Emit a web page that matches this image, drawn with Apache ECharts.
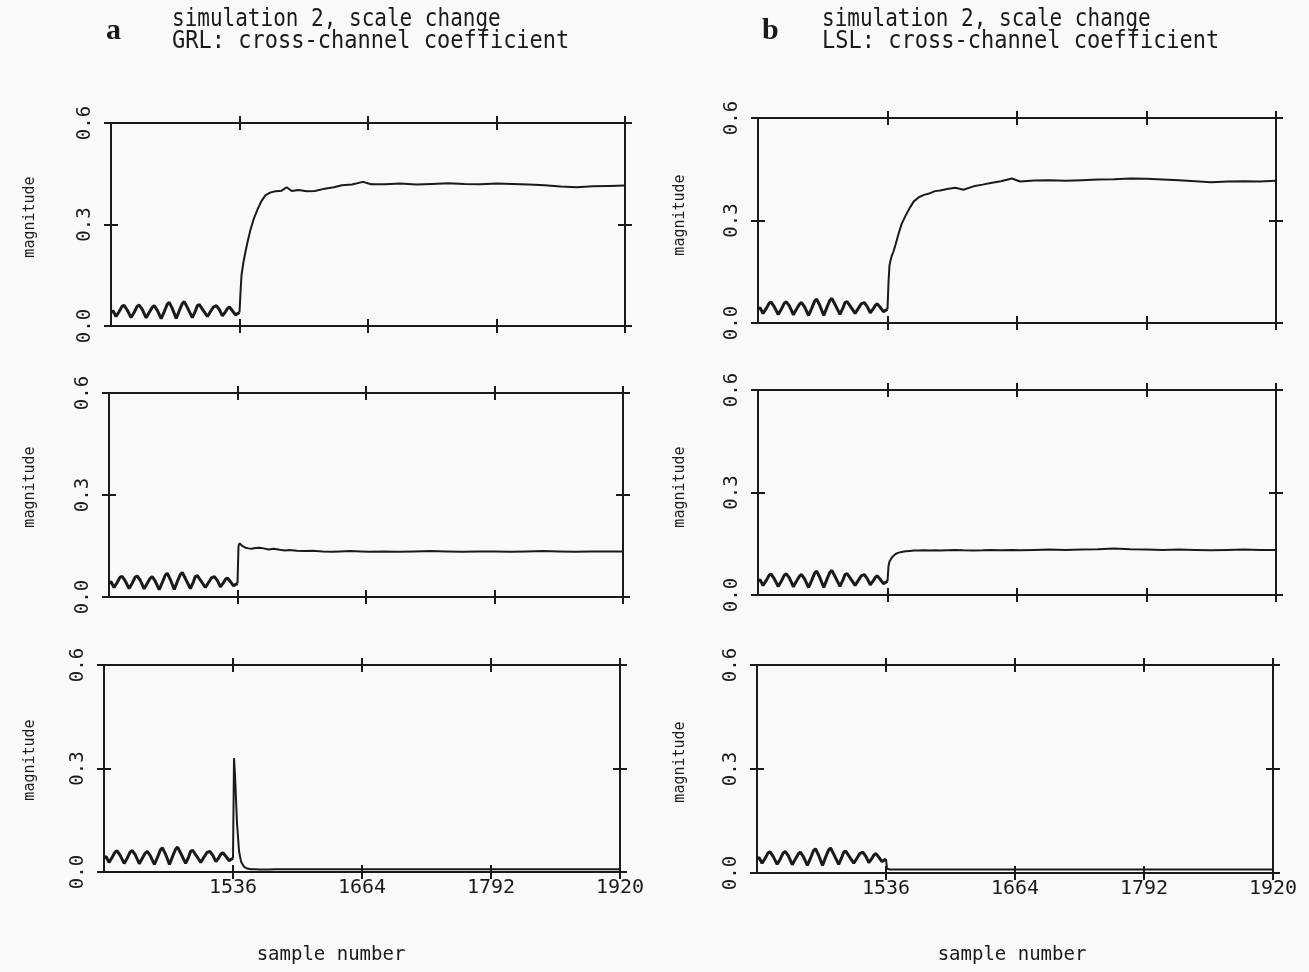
<!DOCTYPE html>
<html>
<head>
<meta charset="utf-8">
<script src="https://cdn.jsdelivr.net/npm/echarts@6/dist/echarts.min.js"></script>
<style>
html,body{margin:0;padding:0;background:#f9f9f9;}
#chart{width:1309px;height:972px;}
</style>
</head>
<body>
<div id="chart"></div>
<script>
// ---- data ----
const X_MIN = 1408, X_MAX = 1920;
const xTicks = [1536, 1664, 1792, 1920];
const yTicks = [0, 0.3, 0.6];

// oscillation before the scale change (same input in all panels)
const preX = [1408,1410,1413,1416,1419,1421,1424,1428,1431,1434,1436,1439,1443,1446,1449,1451,1454,1458,1461,1464,1466,1469,1473,1476,1479,1481,1484,1489,1492,1494,1496,1499,1504,1507,1510,1513,1516,1519,1522,1524,1526,1529,1532,1536];
const preY = [0.040,0.045,0.028,0.042,0.058,0.061,0.048,0.025,0.040,0.058,0.062,0.050,0.024,0.040,0.055,0.060,0.047,0.022,0.042,0.064,0.070,0.052,0.022,0.045,0.066,0.072,0.055,0.025,0.044,0.060,0.063,0.050,0.028,0.042,0.056,0.060,0.048,0.030,0.042,0.052,0.056,0.045,0.033,0.040];

// after the scale change
const postX = [1536,1537,1538,1540,1542,1544,1547,1550,1554,1558,1562,1567,1572,1578,1583,1588,1595,1603,1611,1621,1630,1638,1648,1659,1667,1681,1696,1712,1728,1744,1760,1776,1792,1808,1824,1840,1856,1872,1888,1904,1920];
const grlTop = [0.04,0.10,0.15,0.19,0.22,0.248,0.285,0.315,0.345,0.37,0.387,0.395,0.398,0.400,0.410,0.399,0.402,0.398,0.399,0.406,0.41,0.416,0.418,0.426,0.419,0.419,0.421,0.418,0.42,0.422,0.42,0.419,0.421,0.42,0.418,0.416,0.412,0.41,0.413,0.414,0.415];
const grlMid = [0.04,0.15,0.158,0.152,0.148,0.145,0.143,0.142,0.144,0.145,0.143,0.14,0.142,0.139,0.137,0.138,0.136,0.135,0.136,0.134,0.133,0.134,0.135,0.134,0.133,0.134,0.133,0.134,0.135,0.134,0.133,0.134,0.134,0.133,0.134,0.135,0.134,0.133,0.134,0.134,0.134];
const grlBot = [0.04,0.33,0.28,0.14,0.06,0.03,0.015,0.01,0.008,0.008,0.007,0.007,0.007,0.008,0.008,0.008,0.008,0.008,0.008,0.008,0.008,0.008,0.008,0.008,0.008,0.008,0.008,0.008,0.008,0.008,0.008,0.008,0.008,0.008,0.008,0.008,0.008,0.008,0.008,0.008,0.008];
const lslTop = [0.04,0.12,0.17,0.195,0.21,0.23,0.262,0.29,0.315,0.337,0.356,0.368,0.375,0.38,0.386,0.388,0.392,0.396,0.39,0.4,0.405,0.41,0.415,0.423,0.414,0.417,0.418,0.416,0.418,0.42,0.421,0.423,0.422,0.42,0.418,0.415,0.412,0.414,0.415,0.414,0.416];
const lslMid = [0.04,0.085,0.098,0.108,0.115,0.12,0.124,0.126,0.128,0.129,0.13,0.13,0.131,0.13,0.131,0.13,0.131,0.132,0.131,0.13,0.131,0.132,0.131,0.132,0.131,0.132,0.133,0.132,0.133,0.134,0.136,0.134,0.133,0.132,0.133,0.132,0.131,0.132,0.133,0.132,0.132];
const lslBot = [0.04,0.012,0.01,0.01,0.01,0.01,0.01,0.01,0.01,0.01,0.01,0.01,0.01,0.01,0.01,0.01,0.01,0.01,0.01,0.01,0.01,0.01,0.01,0.01,0.01,0.01,0.01,0.01,0.01,0.01,0.01,0.01,0.01,0.01,0.01,0.01,0.01,0.01,0.01,0.01,0.01];

const titleLine1 = 'simulation 2, scale change';
const titleA = 'GRL: cross-channel coefficient';
const titleB = 'LSL: cross-channel coefficient';
const yName = 'magnitude';
const xName = 'sample number';

// ---- build ----
const INK = '#1a1a1a';
const MONO = '"DejaVu Sans Mono", "Liberation Mono", monospace';

function pairs(xs, ys) {
  const d = [];
  for (let i = 0; i < xs.length; i++) d.push([xs[i], ys[i]]);
  return d;
}

const panels = [
  {left:111, top:123, width:514, height:203, values:grlTop, labels:false},
  {left:109, top:393, width:514, height:204, values:grlMid, labels:false},
  {left:104, top:665, width:516, height:207, values:grlBot, labels:true},
  {left:758, top:118, width:518, height:205, values:lslTop, labels:false},
  {left:758, top:390, width:518, height:205, values:lslMid, labels:false},
  {left:757, top:665, width:516, height:208, values:lslBot, labels:true}
];

const grid = [], xAxis = [], yAxis = [], series = [];
const tickStyle = {color: INK, width: 2};
const lineOn = {show:true, onZero:false, lineStyle:{color: INK, width: 2}};
const lineOff = {show:false, onZero:false};

panels.forEach((p, i) => {
  grid.push({left:p.left, top:p.top, width:p.width, height:p.height});
  const bx = {type:'value', gridIndex:i, min:X_MIN, max:X_MAX, interval:128, splitLine:{show:false}};
  xAxis.push(Object.assign({}, bx, {position:'bottom', axisLine:lineOn,
    axisTick:{show:true, inside:false, length:7, customValues:xTicks, lineStyle:tickStyle},
    axisLabel:{show:p.labels, customValues:xTicks, margin:6, color:INK, fontFamily:MONO, fontSize:20,
      formatter: v => String(v)}}));
  xAxis.push(Object.assign({}, bx, {position:'bottom', axisLine:lineOff,
    axisTick:{show:true, inside:true, length:7, customValues:xTicks, lineStyle:tickStyle}, axisLabel:{show:false}}));
  xAxis.push(Object.assign({}, bx, {position:'top', axisLine:lineOn,
    axisTick:{show:true, inside:false, length:7, customValues:xTicks, lineStyle:tickStyle}, axisLabel:{show:false}}));
  xAxis.push(Object.assign({}, bx, {position:'top', axisLine:lineOff,
    axisTick:{show:true, inside:true, length:7, customValues:xTicks, lineStyle:tickStyle}, axisLabel:{show:false}}));

  const by = {type:'value', gridIndex:i, min:0, max:0.6, interval:0.3, splitLine:{show:false}};
  yAxis.push(Object.assign({}, by, {position:'left', axisLine:lineOn,
    axisTick:{show:true, inside:false, length:7, customValues:yTicks, lineStyle:tickStyle},
    axisLabel:{show:true, customValues:yTicks, rotate:90, margin:16, color:INK, fontFamily:MONO, fontSize:19,
      formatter: v => Number(v).toFixed(1)}}));
  yAxis.push(Object.assign({}, by, {position:'left', axisLine:lineOff,
    axisTick:{show:true, inside:true, length:7, customValues:yTicks, lineStyle:tickStyle}, axisLabel:{show:false}}));
  yAxis.push(Object.assign({}, by, {position:'right', axisLine:lineOn,
    axisTick:{show:true, inside:false, length:7, customValues:yTicks, lineStyle:tickStyle}, axisLabel:{show:false}}));
  yAxis.push(Object.assign({}, by, {position:'right', axisLine:lineOff,
    axisTick:{show:true, inside:true, length:7, customValues:yTicks, lineStyle:tickStyle}, axisLabel:{show:false}}));

  // oscillating part (drawn heavier, as in the plot) and the part after the change
  series.push({type:'line', xAxisIndex:4*i, yAxisIndex:4*i, data:pairs(preX, preY),
    showSymbol:false, symbol:'none', lineStyle:{color:INK, width:3}, animation:false});
  series.push({type:'line', xAxisIndex:4*i, yAxisIndex:4*i, data:pairs(postX, p.values),
    showSymbol:false, symbol:'none', lineStyle:{color:INK, width:2}, animation:false});
});

const serif = 'bold 30px "Liberation Serif", "DejaVu Serif", serif';
const graphic = [
  {type:'text', x:106, y:16, style:{text:'a', font:serif, fill:INK}},
  {type:'text', x:172, y:8, scaleY:1.15, style:{text:titleLine1, font:'21px ' + MONO, fill:INK}},
  {type:'text', x:172, y:29, scaleY:1.15, style:{text:titleA, font:'22px ' + MONO, fill:INK}},
  {type:'text', x:762, y:16, style:{text:'b', font:serif, fill:INK}},
  {type:'text', x:822, y:8, scaleY:1.15, style:{text:titleLine1, font:'21px ' + MONO, fill:INK}},
  {type:'text', x:822, y:29, scaleY:1.15, style:{text:titleB, font:'22px ' + MONO, fill:INK}},
  {type:'text', x:331, y:955, style:{text:xName, font:'19px ' + MONO, fill:INK, align:'center', verticalAlign:'middle'}},
  {type:'text', x:1012, y:955, style:{text:xName, font:'19px ' + MONO, fill:INK, align:'center', verticalAlign:'middle'}}
];
[[30,217],[30,487],[30,760],[680,215],[680,487],[680,762]].forEach(pt => {
  graphic.push({type:'text', x:pt[0], y:pt[1], rotation:Math.PI/2,
    style:{text:yName, font:'15px ' + MONO, fill:INK, align:'center', verticalAlign:'middle'}});
});

const chart = echarts.init(document.getElementById('chart'), null, {renderer:'canvas'});
chart.setOption({
  backgroundColor:'#f9f9f9',
  animation:false,
  grid, xAxis, yAxis, series, graphic
});
</script>
</body>
</html>
